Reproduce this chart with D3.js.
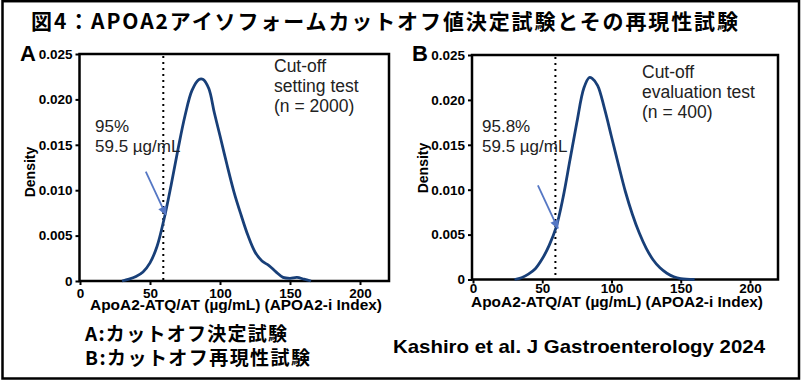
<!DOCTYPE html>
<html>
<head>
<meta charset="utf-8">
<script src="https://cdn.jsdelivr.net/npm/d3@7"></script>
<style>
  body { margin: 0; background: #fff; }
  svg { display: block; }
  .tick text { font-family: "Liberation Sans", Arial, sans-serif; font-weight: bold; font-size: 13.5px; fill: #000; }
  .tick line { stroke: #000; stroke-width: 2; }
</style>
</head>
<body>
<div id="chart-area"></div>
<script>
// data

var xTicks = [0, 50, 100, 150, 200];
var yTicks = [0, 0.005, 0.010, 0.015, 0.020, 0.025];
var cutoff = 59.5;

// panel A: cut-off setting test (n = 2000)
var xA = [30, 35, 40, 45, 50, 55, 60, 65, 70, 75, 80, 85, 88, 92, 96, 100, 105, 110, 115, 120, 125, 130, 135, 140, 145, 150, 155, 160, 165];
var yA = [0, 0.0002, 0.0005, 0.0010, 0.0020, 0.0038, 0.0068, 0.0105, 0.0145, 0.0182, 0.0210, 0.0222, 0.0222, 0.0212, 0.0185, 0.0160, 0.0128, 0.0098, 0.0073, 0.0050, 0.0032, 0.0022, 0.0017, 0.0010, 0.0004, 0.0003, 0.0004, 0.0002, 0];

// panel B: cut-off evaluation test (n = 400)
var xB = [30, 35, 40, 45, 50, 55, 60, 65, 70, 75, 80, 84, 86, 90, 95, 100, 105, 110, 115, 120, 125, 130, 135, 140, 145, 150, 160];
var yB = [0, 0.0002, 0.0006, 0.0012, 0.0023, 0.0038, 0.0058, 0.0091, 0.0133, 0.0175, 0.0213, 0.0225, 0.0224, 0.0216, 0.0190, 0.0159, 0.0128, 0.0098, 0.0073, 0.0052, 0.0035, 0.0022, 0.0013, 0.0007, 0.0003, 0.0001, 0];

var labelsA = ["Cut-off", "setting test", "(n = 2000)"];
var labelsB = ["Cut-off", "evaluation test", "(n = 400)"];
var pctA = "95%", pctB = "95.8%";
var arrowA = 0.0073, arrowB = 0.0057;   // density where the arrow points

var W = 802, H = 382;
var latin = '"Liberation Sans", Arial, sans-serif';
var cjk = '"Noto Sans CJK JP", "Noto Sans CJK SC", sans-serif';

var svg = d3.select("#chart-area").append("svg")
    .attr("width", W)
    .attr("height", H);

var defs = svg.append("defs");
defs.append("marker")
    .attr("id", "head")
    .attr("viewBox", "0 0 10 10")
    .attr("refX", 9).attr("refY", 5)
    .attr("markerWidth", 10).attr("markerHeight", 9)
    .attr("orient", "auto")
    .attr("markerUnits", "userSpaceOnUse")
    .append("path")
    .attr("d", "M0,0L10,5L0,10z")
    .attr("fill", "#5577c4");

defs.append("clipPath").attr("id", "cutA")
    .append("rect").attr("x", 0).attr("y", 0).attr("width", 400).attr("height", 313);

// outer frame
svg.append("rect")
    .attr("x", 2.5).attr("y", 1.2)
    .attr("width", 796.5).attr("height", 377.3)
    .attr("fill", "none").attr("stroke", "#000").attr("stroke-width", 2.5);

// title
svg.append("text")
    .attr("x", 31).attr("y", 29)
    .attr("textLength", 707).attr("lengthAdjust", "spacing")
    .style("font-family", cjk).style("font-weight", "bold").style("font-size", "21px")
    .text("図4：APOA2アイソフォームカットオフ値決定試験とその再現性試験");

function drawPanel(p) {
    var x = d3.scaleLinear().domain([0, 200]).range([p.x0, p.x200]);
    var y = d3.scaleLinear().domain([0, 0.025]).range([p.bottom, p.top]);

    var g = svg.append("g");

    // y axis
    g.append("g")
        .attr("transform", "translate(" + p.left + ",0)")
        .call(d3.axisLeft(y).tickValues(yTicks).tickSize(4).tickPadding(3)
            .tickFormat(function (d) { return d === 0 ? "0" : d3.format(".3f")(d); }))
        .call(function (a) { a.select(".domain").remove(); });

    // x axis
    g.append("g")
        .attr("transform", "translate(0," + p.bottom + ")")
        .call(d3.axisBottom(x).tickValues(xTicks).tickSize(4).tickPadding(p.xPad))
        .call(function (a) { a.select(".domain").remove(); });

    // frame of the plot
    g.append("rect")
        .attr("x", p.left).attr("y", p.top)
        .attr("width", p.right - p.left).attr("height", p.bottom - p.top)
        .attr("fill", "none").attr("stroke", "#000").attr("stroke-width", 2.5);

    // cut-off line
    g.append("line")
        .attr("x1", x(cutoff)).attr("x2", x(cutoff))
        .attr("y1", p.top + 2).attr("y2", p.bottom - 1)
        .attr("stroke", "#000").attr("stroke-width", 2)
        .attr("stroke-dasharray", "2,4");

    // density curve
    var pts = p.xs.map(function (v, i) { return [v, p.ys[i]]; });
    var line = d3.line()
        .x(function (d) { return x(d[0]); })
        .y(function (d) { return y(d[1]); })
        .curve(d3.curveCatmullRom.alpha(0.5));
    g.append("path")
        .datum(pts)
        .attr("d", line)
        .attr("fill", "none")
        .attr("stroke", "#183f78")
        .attr("stroke-width", 2.8);

    // arrow to the cut-off point
    var tx = x(cutoff) + 2.5, ty = y(p.arrow);
    g.append("line")
        .attr("x1", tx - 20).attr("y1", ty - 43)
        .attr("x2", tx).attr("y2", ty)
        .attr("stroke", "#5577c4").attr("stroke-width", 1.8)
        .attr("marker-end", "url(#head)");

    // cut-off text
    g.append("text")
        .attr("x", p.noteX).attr("y", 131.7)
        .style("font-family", latin).style("font-size", "17px").attr("fill", "#222")
        .text(p.pct);
    g.append("text")
        .attr("x", p.noteX).attr("y", 151.7)
        .style("font-family", latin).style("font-size", "17px").attr("fill", "#222")
        .text("59.5 µg/mL");

    // test label
    g.selectAll(".lab")
        .data(p.labels)
        .enter().append("text")
        .attr("x", p.labX)
        .attr("y", function (d, i) { return p.labY + i * 20; })
        .style("font-family", latin).style("font-size", "17.5px").attr("fill", "#222")
        .text(function (d) { return d; });

    // panel letter
    g.append("text")
        .attr("x", p.letterX).attr("y", 61)
        .style("font-family", latin).style("font-weight", "bold").style("font-size", "22px")
        .text(p.letter);

    // Density label
    g.append("text")
        .attr("transform", "translate(" + p.densX + "," + p.densY + ") rotate(-90)")
        .attr("text-anchor", "middle")
        .style("font-family", latin).style("font-weight", "bold").style("font-size", "14px")
        .text("Density");

    // x title
    var t = g.append("text")
        .attr("x", p.titleX).attr("y", p.titleY)
        .attr("text-anchor", "middle")
        .attr("textLength", 292).attr("lengthAdjust", "spacingAndGlyphs")
        .style("font-family", latin).style("font-weight", "bold").style("font-size", "14.5px")
        .text("ApoA2-ATQ/AT (µg/mL) (APOA2-i Index)");
    if (p.clip) t.attr("clip-path", "url(#" + p.clip + ")");
}

drawPanel({
    letter: "A", letterX: 20,
    left: 79.5, right: 389, top: 54, bottom: 281,
    x0: 80, x200: 360, xPad: 3,
    xs: xA, ys: yA, arrow: arrowA,
    pct: pctA, noteX: 95,
    labels: labelsA, labX: 274, labY: 71.7,
    densX: 35, densY: 172,
    titleX: 236, titleY: 310, clip: "cutA"
});

drawPanel({
    letter: "B", letterX: 412,
    left: 472, right: 778, top: 55, bottom: 279.5,
    x0: 473, x200: 750, xPad: 0,
    xs: xB, ys: yB, arrow: arrowB,
    pct: pctB, noteX: 482,
    labels: labelsB, labX: 642, labY: 78.3,
    densX: 428, densY: 168,
    titleX: 617, titleY: 307
});

// footnotes
svg.append("text")
    .attr("x", 85).attr("y", 341)
    .attr("textLength", 202).attr("lengthAdjust", "spacing")
    .style("font-family", cjk).style("font-weight", "bold").style("font-size", "19px")
    .text("A:カットオフ決定試験");
svg.append("text")
    .attr("x", 85).attr("y", 365)
    .attr("textLength", 225).attr("lengthAdjust", "spacing")
    .style("font-family", cjk).style("font-weight", "bold").style("font-size", "19px")
    .text("B:カットオフ再現性試験");
svg.append("text")
    .attr("x", 393).attr("y", 353)
    .attr("textLength", 372).attr("lengthAdjust", "spacingAndGlyphs")
    .style("font-family", latin).style("font-weight", "bold").style("font-size", "18.5px")
    .text("Kashiro et al. J Gastroenterology  2024");
</script>
</body>
</html>
